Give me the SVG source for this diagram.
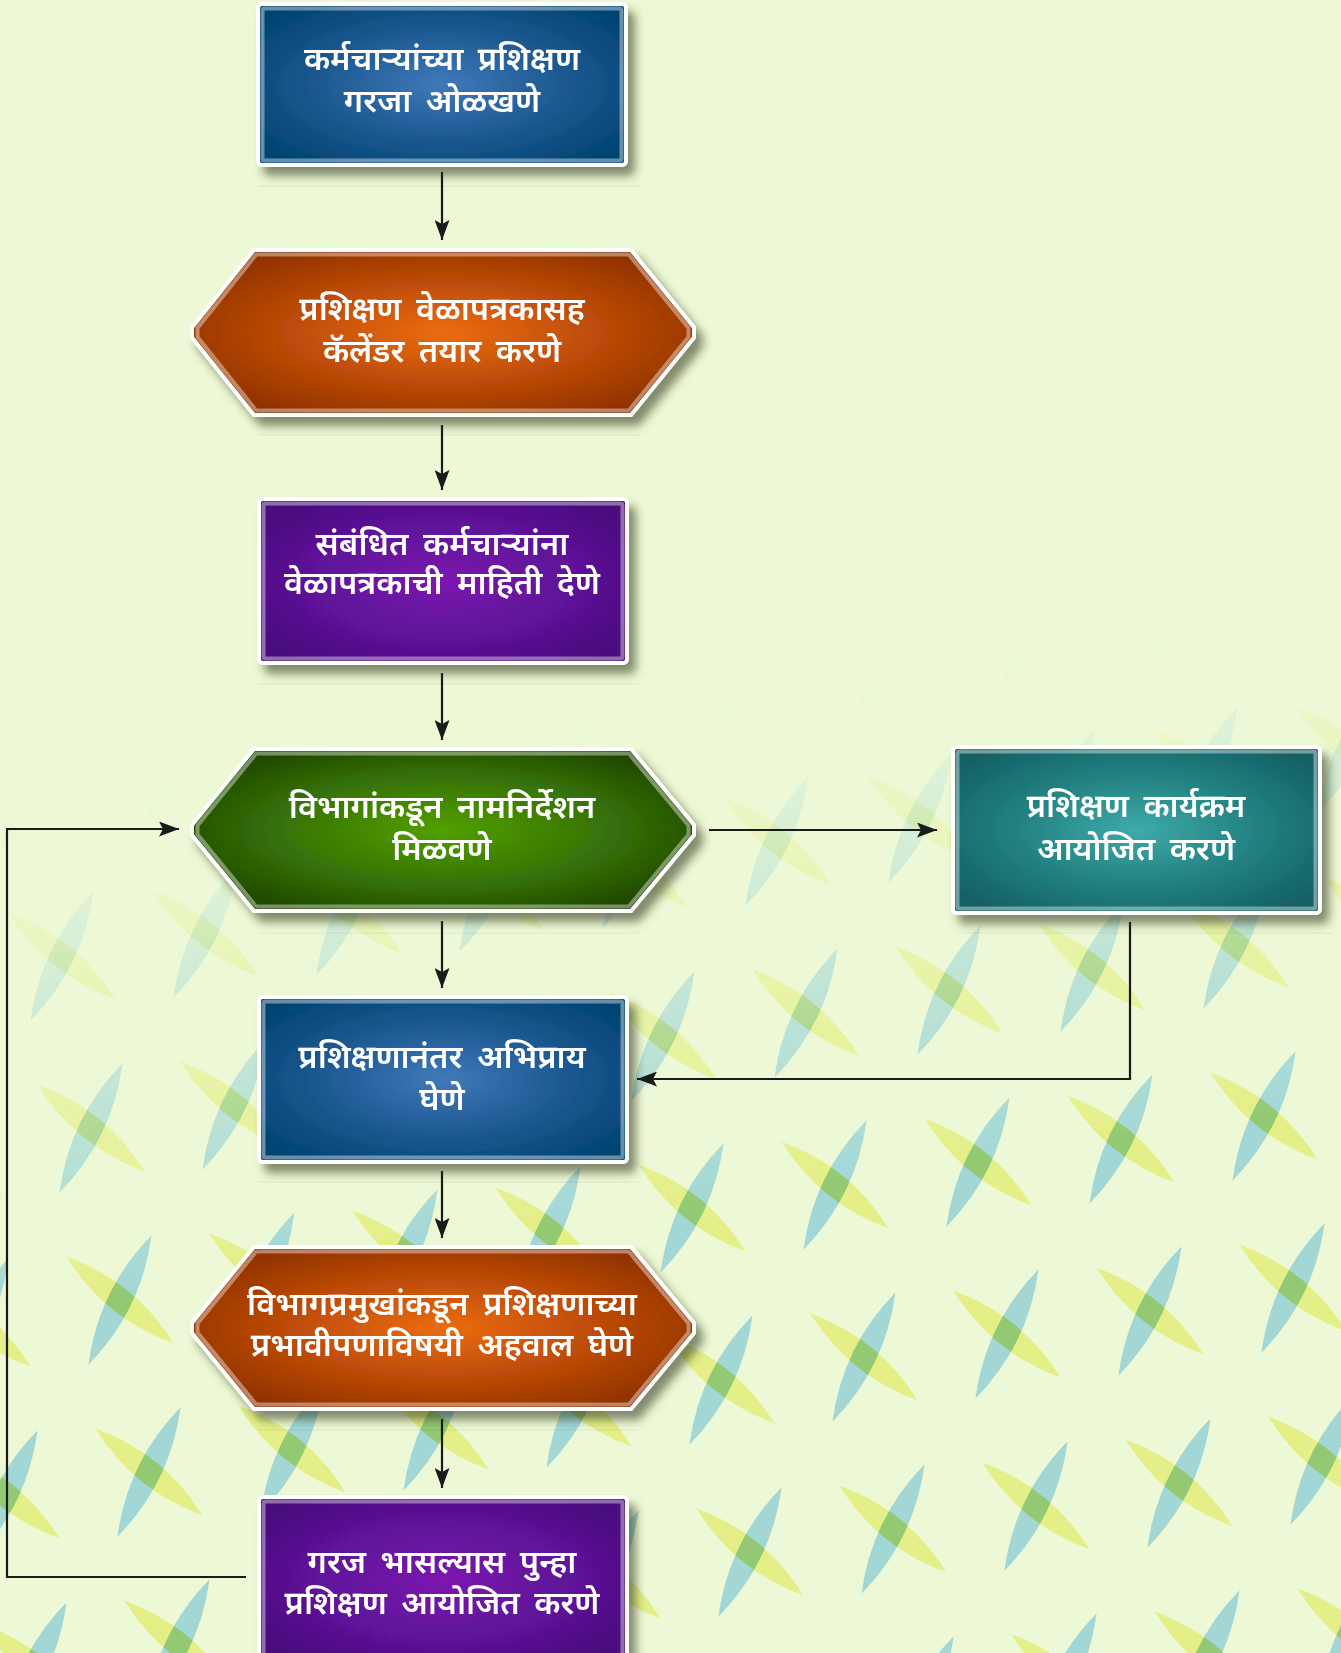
<svg xmlns="http://www.w3.org/2000/svg" xmlns:xlink="http://www.w3.org/1999/xlink" width="1341" height="1653" viewBox="0 0 1341 1653">
<defs>
<style>
.t{font-family:"Noto Sans Devanagari","Lohit Devanagari","Mangal","Noto Sans",sans-serif;font-size:32.5px;fill:#ffffff;text-anchor:middle;font-weight:600;word-spacing:6px}
.edge{fill:none;stroke:#1a1a1a;stroke-width:2.2}
.b{stroke:#ffffff;stroke-width:4;stroke-linejoin:round}
.band{fill:none;stroke:#ffffff;stroke-opacity:0.4;stroke-width:4;stroke-linejoin:round}
.lb{fill:#a3d7d6;mix-blend-mode:multiply}
.ly{fill:#e4ef88;mix-blend-mode:multiply}
.floor{stroke:#000000;stroke-opacity:0.07;stroke-width:1}
.sh{filter:url(#shadow)}
</style>
<filter id="shadow" x="-10%" y="-10%" width="125%" height="135%">
<feDropShadow dx="7" dy="9" stdDeviation="5" flood-color="#2a3010" flood-opacity="0.55"/>
</filter>
<radialGradient id="gBlue" cx="50%" cy="50%" r="62%">
<stop offset="0" stop-color="#4079ba"/><stop offset="0.55" stop-color="#1c5890"/><stop offset="1" stop-color="#004472"/>
</radialGradient>
<radialGradient id="gOrange" cx="50%" cy="50%" r="62%">
<stop offset="0" stop-color="#ec6c12"/><stop offset="0.55" stop-color="#b84806"/><stop offset="1" stop-color="#882e00"/>
</radialGradient>
<radialGradient id="gPurple" cx="50%" cy="50%" r="62%">
<stop offset="0" stop-color="#7c18b0"/><stop offset="0.55" stop-color="#5e1298"/><stop offset="1" stop-color="#480f7c"/>
</radialGradient>
<radialGradient id="gGreen" cx="50%" cy="50%" r="62%">
<stop offset="0" stop-color="#52a000"/><stop offset="0.55" stop-color="#357008"/><stop offset="1" stop-color="#1c4000"/>
</radialGradient>
<radialGradient id="gTeal" cx="50%" cy="50%" r="62%">
<stop offset="0" stop-color="#3eaaaa"/><stop offset="0.55" stop-color="#22807f"/><stop offset="1" stop-color="#126064"/>
</radialGradient>
<linearGradient id="fadeG" gradientUnits="userSpaceOnUse" x1="130" y1="790" x2="205" y2="1280">
<stop offset="0" stop-color="#000000"/><stop offset="1" stop-color="#ffffff"/>
</linearGradient>
<mask id="fade" maskUnits="userSpaceOnUse" x="0" y="0" width="1341" height="1653">
<rect x="0" y="0" width="1341" height="1653" fill="url(#fadeG)"/>
</mask>
<g id="x">
<path class="lb" transform="rotate(-64)" d="M-72,0 Q0,-24 72,0 Q0,24 -72,0 Z"/>
<path class="ly" transform="rotate(39)" d="M-69,0 Q0,-24 69,0 Q0,24 -69,0 Z"/>
</g>
<marker id="arr" markerUnits="userSpaceOnUse" markerWidth="20" markerHeight="15" refX="20" refY="7.5" orient="auto">
<path d="M0,0 L20,7.5 L0,15 L4,7.5 Z" fill="#1a1a1a"/>
</marker>
</defs>

<rect x="0" y="0" width="1341" height="1653" fill="#edf9d6"/>

<g id="background-pattern" mask="url(#fade)">
<use xlink:href="#x" x="147" y="589"/><use xlink:href="#x" x="290" y="566"/><use xlink:href="#x" x="433" y="543"/><use xlink:href="#x" x="576" y="520"/><use xlink:href="#x" x="719" y="497"/><use xlink:href="#x" x="862" y="474"/><use xlink:href="#x" x="1005" y="451"/><use xlink:href="#x" x="1148" y="428"/><use xlink:href="#x" x="1291" y="405"/>
<use xlink:href="#x" x="33" y="784"/><use xlink:href="#x" x="176" y="761"/><use xlink:href="#x" x="319" y="738"/><use xlink:href="#x" x="462" y="715"/><use xlink:href="#x" x="605" y="692"/><use xlink:href="#x" x="748" y="669"/><use xlink:href="#x" x="891" y="646"/><use xlink:href="#x" x="1034" y="623"/><use xlink:href="#x" x="1177" y="600"/><use xlink:href="#x" x="1320" y="577"/>
<use xlink:href="#x" x="62" y="956"/><use xlink:href="#x" x="205" y="933"/><use xlink:href="#x" x="348" y="910"/><use xlink:href="#x" x="491" y="887"/><use xlink:href="#x" x="634" y="864"/><use xlink:href="#x" x="777" y="841"/><use xlink:href="#x" x="920" y="818"/><use xlink:href="#x" x="1063" y="795"/><use xlink:href="#x" x="1206" y="772"/><use xlink:href="#x" x="1349" y="749"/>
<use xlink:href="#x" x="-52" y="1151"/><use xlink:href="#x" x="91" y="1128"/><use xlink:href="#x" x="234" y="1105"/><use xlink:href="#x" x="377" y="1082"/><use xlink:href="#x" x="520" y="1059"/><use xlink:href="#x" x="663" y="1036"/><use xlink:href="#x" x="806" y="1013"/><use xlink:href="#x" x="949" y="990"/><use xlink:href="#x" x="1092" y="967"/><use xlink:href="#x" x="1235" y="944"/><use xlink:href="#x" x="1378" y="921"/>
<use xlink:href="#x" x="-23" y="1323"/><use xlink:href="#x" x="120" y="1300"/><use xlink:href="#x" x="263" y="1277"/><use xlink:href="#x" x="406" y="1254"/><use xlink:href="#x" x="549" y="1231"/><use xlink:href="#x" x="692" y="1208"/><use xlink:href="#x" x="835" y="1185"/><use xlink:href="#x" x="978" y="1162"/><use xlink:href="#x" x="1121" y="1139"/><use xlink:href="#x" x="1264" y="1116"/><use xlink:href="#x" x="1407" y="1093"/>
<use xlink:href="#x" x="6" y="1495"/><use xlink:href="#x" x="149" y="1472"/><use xlink:href="#x" x="292" y="1449"/><use xlink:href="#x" x="435" y="1426"/><use xlink:href="#x" x="578" y="1403"/><use xlink:href="#x" x="721" y="1380"/><use xlink:href="#x" x="864" y="1357"/><use xlink:href="#x" x="1007" y="1334"/><use xlink:href="#x" x="1150" y="1311"/><use xlink:href="#x" x="1293" y="1288"/>
<use xlink:href="#x" x="35" y="1667"/><use xlink:href="#x" x="178" y="1644"/><use xlink:href="#x" x="321" y="1621"/><use xlink:href="#x" x="464" y="1598"/><use xlink:href="#x" x="607" y="1575"/><use xlink:href="#x" x="750" y="1552"/><use xlink:href="#x" x="893" y="1529"/><use xlink:href="#x" x="1036" y="1506"/><use xlink:href="#x" x="1179" y="1483"/><use xlink:href="#x" x="1322" y="1460"/>
<use xlink:href="#x" x="922" y="1701"/><use xlink:href="#x" x="1065" y="1678"/><use xlink:href="#x" x="1208" y="1655"/><use xlink:href="#x" x="1351" y="1632"/>
</g>

<g id="floor-lines">
<line class="floor" x1="258" y1="186" x2="640" y2="186"/>
<line class="floor" x1="258" y1="435" x2="640" y2="435"/>
<line class="floor" x1="258" y1="684" x2="640" y2="684"/>
<line class="floor" x1="258" y1="933" x2="640" y2="933"/>
<line class="floor" x1="965" y1="933" x2="1332" y2="933"/>
<line class="floor" x1="258" y1="1182" x2="640" y2="1182"/>
<line class="floor" x1="258" y1="1430" x2="640" y2="1430"/>
</g>

<g id="connectors">
<path class="edge" d="M442,172 L442,240" marker-end="url(#arr)"/>
<path class="edge" d="M442,425 L442,490" marker-end="url(#arr)"/>
<path class="edge" d="M442,673 L442,740" marker-end="url(#arr)"/>
<path class="edge" d="M442,921 L442,988" marker-end="url(#arr)"/>
<path class="edge" d="M442,1171 L442,1238" marker-end="url(#arr)"/>
<path class="edge" d="M442,1419 L442,1488" marker-end="url(#arr)"/>
<path class="edge" d="M709,830 L937,830" marker-end="url(#arr)"/>
<path class="edge" d="M1130,922 L1130,1079 L637,1079" marker-end="url(#arr)"/>
<path class="edge" d="M246,1577 L7,1577 L7,829 L179,829" marker-end="url(#arr)"/>
</g>

<g id="node1">
<rect class="b sh" x="258" y="4" width="368" height="161" rx="4" fill="url(#gBlue)"/>
<rect class="band" x="262.5" y="8.5" width="359" height="152" rx="2"/>
<text class="t" x="442" y="70">कर्मचाऱ्यांच्या प्रशिक्षण</text>
<text class="t" x="442" y="112">गरजा ओळखणे</text>
</g>

<g id="node2">
<polygon class="b sh" points="192,327.5 254,250 631,250 694,327.5 694,337.5 631,415 254,415 192,337.5" fill="url(#gOrange)"/>
<polygon class="band" points="197.5,328 256.2,254.5 628.8,254.5 688.5,328 688.5,337 628.8,410.5 256.2,410.5 197.5,337"/>
<text class="t" x="442" y="320">प्रशिक्षण वेळापत्रकासह</text>
<text class="t" x="442" y="362">कॅलेंडर तयार करणे</text>
</g>

<g id="node3">
<rect class="b sh" x="259" y="499" width="368" height="164" rx="4" fill="url(#gPurple)"/>
<rect class="band" x="263.5" y="503.5" width="359" height="155" rx="2"/>
<text class="t" x="442" y="555">संबंधित कर्मचाऱ्यांना</text>
<text class="t" x="442" y="594">वेळापत्रकाची माहिती देणे</text>
</g>

<g id="node4">
<polygon class="b sh" points="192,825 254,749 631,749 694,825 694,835 631,911 254,911 192,835" fill="url(#gGreen)"/>
<polygon class="band" points="197.5,825.5 256.2,753.5 628.8,753.5 688.5,825.5 688.5,834.5 628.8,906.5 256.2,906.5 197.5,834.5"/>
<text class="t" x="442" y="818">विभागांकडून नामनिर्देशन</text>
<text class="t" x="442" y="860">मिळवणे</text>
</g>

<g id="node5">
<rect class="b sh" x="953" y="747" width="367" height="166" rx="4" fill="url(#gTeal)"/>
<rect class="band" x="957.5" y="751.5" width="358" height="157" rx="2"/>
<text class="t" x="1136" y="817">प्रशिक्षण कार्यक्रम</text>
<text class="t" x="1136" y="860">आयोजित करणे</text>
</g>

<g id="node6">
<rect class="b sh" x="259" y="997" width="368" height="165" rx="4" fill="url(#gBlue)"/>
<rect class="band" x="263.5" y="1001.5" width="359" height="156" rx="2"/>
<text class="t" x="442" y="1068">प्रशिक्षणानंतर अभिप्राय</text>
<text class="t" x="442" y="1110">घेणे</text>
</g>

<g id="node7">
<polygon class="b sh" points="192,1323 254,1247 631,1247 694,1323 694,1333 631,1409 254,1409 192,1333" fill="url(#gOrange)"/>
<polygon class="band" points="197.5,1323.5 256.2,1251.5 628.8,1251.5 688.5,1323.5 688.5,1332.5 628.8,1404.5 256.2,1404.5 197.5,1332.5"/>
<text class="t" x="442" y="1315">विभागप्रमुखांकडून प्रशिक्षणाच्या</text>
<text class="t" x="442" y="1356">प्रभावीपणाविषयी अहवाल घेणे</text>
</g>

<g id="node8">
<rect class="b sh" x="259" y="1497" width="368" height="166" rx="4" fill="url(#gPurple)"/>
<rect class="band" x="263.5" y="1501.5" width="359" height="157" rx="2"/>
<text class="t" x="442" y="1573">गरज भासल्यास पुन्हा</text>
<text class="t" x="442" y="1614">प्रशिक्षण आयोजित करणे</text>
</g>
</svg>
